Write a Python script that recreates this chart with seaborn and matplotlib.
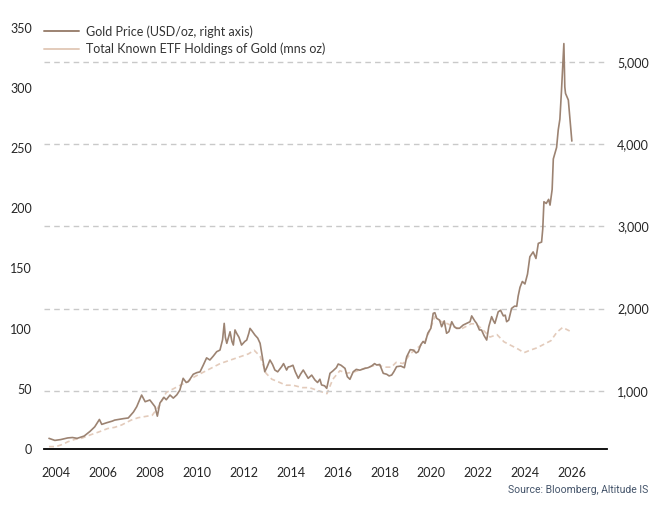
import matplotlib
matplotlib.use("Agg")
import matplotlib.pyplot as plt
from matplotlib.lines import Line2D
from matplotlib.ticker import FuncFormatter
import seaborn as sns
import pandas as pd

# gold price, USD/oz (right axis)
gold_years = [
    2004.2, 2004.45, 2004.7, 2005.0, 2005.2, 2005.4, 2005.7, 2005.95, 2006.15, 2006.35,
    2006.45, 2006.66, 2006.9, 2007.0, 2007.37, 2007.58, 2007.8, 2007.94, 2008.15, 2008.3,
    2008.5, 2008.72, 2008.82, 2008.93, 2009.1, 2009.2, 2009.36, 2009.5, 2009.65, 2009.78,
    2009.92, 2010.05, 2010.14, 2010.35, 2010.5, 2010.64, 2010.78, 2010.92, 2011.06, 2011.2,
    2011.35, 2011.49, 2011.6, 2011.67, 2011.72, 2011.78, 2011.92, 2012.0, 2012.06, 2012.13,
    2012.2, 2012.3, 2012.41, 2012.55, 2012.63, 2012.72, 2012.77, 2012.85, 2012.98, 2013.1,
    2013.2, 2013.27, 2013.4, 2013.5, 2013.62, 2013.73, 2013.83, 2013.95, 2014.12, 2014.2,
    2014.33, 2014.4, 2014.47, 2014.6, 2014.7, 2014.83, 2014.92, 2015.04, 2015.15, 2015.25,
    2015.4, 2015.54, 2015.65, 2015.75, 2015.82, 2015.95, 2016.04, 2016.18, 2016.3, 2016.45,
    2016.53, 2016.65, 2016.82, 2016.92, 2017.03, 2017.17, 2017.3, 2017.45, 2017.67, 2017.8,
    2017.95, 2018.08, 2018.17, 2018.3, 2018.45, 2018.6, 2018.7, 2018.81, 2018.9, 2019.02,
    2019.2, 2019.35, 2019.45, 2019.6, 2019.73, 2019.85, 2019.94, 2020.05, 2020.15, 2020.23,
    2020.35, 2020.48, 2020.58, 2020.65, 2020.73, 2020.85, 2020.94, 2021.05, 2021.15, 2021.25,
    2021.37, 2021.48, 2021.58, 2021.7, 2021.86, 2022.0, 2022.15, 2022.22, 2022.35, 2022.43,
    2022.55, 2022.64, 2022.75, 2022.86, 2022.95, 2023.07, 2023.15, 2023.21, 2023.35, 2023.45,
    2023.57, 2023.65, 2023.71, 2023.8, 2023.92, 2024.05, 2024.14, 2024.2, 2024.28, 2024.38,
    2024.49, 2024.6, 2024.7, 2024.84, 2024.96, 2025.06, 2025.2, 2025.25, 2025.3, 2025.4,
    2025.5, 2025.56, 2025.65, 2025.7, 2025.84, 2025.91, 2025.98, 2026.05, 2026.15, 2026.19,
    2026.22, 2026.34, 2026.49,
]
gold_price = [
    420, 395, 405, 425, 430, 420, 448, 505, 560, 650,
    590, 610, 630, 642, 660, 668, 740, 805, 947, 866,
    887, 805, 690, 850, 920, 890, 947, 910, 950, 1008,
    1151, 1100, 1110, 1200, 1220, 1230, 1313, 1400, 1374, 1420,
    1475, 1495, 1620, 1820, 1650, 1577, 1718, 1600, 1556, 1740,
    1699, 1650, 1556, 1600, 1617, 1700, 1759, 1730, 1678, 1640,
    1577, 1455, 1231, 1290, 1374, 1320, 1252, 1230, 1293, 1330,
    1252, 1290, 1293, 1310, 1230, 1151, 1200, 1252, 1200, 1151,
    1190, 1130, 1100, 1140, 1070, 1060, 1029, 1212, 1240, 1280,
    1325, 1310, 1272, 1170, 1139, 1231, 1260, 1250, 1272, 1280,
    1300, 1330, 1313, 1320, 1212, 1200, 1180, 1191, 1230, 1293,
    1300, 1280, 1414, 1500, 1495, 1460, 1475, 1560, 1600, 1577,
    1700, 1760, 1942, 1950, 1881, 1860, 1779, 1850, 1699, 1720,
    1840, 1780, 1759, 1760, 1800, 1820, 1840, 1911, 1850, 1820,
    1740, 1739, 1670, 1617, 1780, 1902, 1850, 1820, 1960, 1980,
    1911, 1920, 1840, 1860, 2002, 2030, 2027, 2150, 2259, 2330,
    2300, 2420, 2631, 2690, 2610, 2794, 2810, 2970, 3301, 3280,
    3330, 3260, 3450, 3822, 3962, 4175, 4306, 4661, 5227, 4700,
    4620, 4540, 4040,
]

# total known ETF holdings of gold, mn oz (left axis)
etf_years = [
    2004.2, 2004.5, 2004.8, 2005.0, 2005.3, 2005.6, 2006.0, 2006.3, 2006.7, 2007.0,
    2007.3, 2007.7, 2008.0, 2008.3, 2008.6, 2008.9, 2009.2, 2009.5, 2009.8, 2010.1,
    2010.4, 2010.7, 2010.9, 2011.2, 2011.5, 2011.8, 2012.1, 2012.4, 2012.7, 2012.95,
    2013.2, 2013.45, 2013.7, 2013.95, 2014.3, 2014.6, 2015.0, 2015.3, 2015.6, 2015.9,
    2016.05, 2016.3, 2016.6, 2016.9, 2017.2, 2017.5, 2017.8, 2018.2, 2018.5, 2018.8,
    2019.0, 2019.3, 2019.6, 2019.9, 2020.2, 2020.4, 2020.65, 2020.9, 2021.2, 2021.5,
    2021.8, 2022.2, 2022.4, 2022.7, 2023.0, 2023.3, 2023.6, 2023.9, 2024.2, 2024.45,
    2024.7, 2025.0, 2025.3, 2025.6, 2025.85, 2026.1, 2026.3, 2026.5,
]
etf_holdings = [
    2, 2, 4, 6, 8, 9, 12, 14, 17, 18,
    20, 24, 26, 27, 28, 36, 47, 50, 53, 56,
    60, 63, 65, 68, 71, 73, 75, 77, 79, 82,
    77, 63, 58, 56, 53, 53, 51, 51, 49, 47,
    46, 58, 65, 63, 64, 66, 68, 70, 68, 68,
    72, 71, 79, 84, 88, 97, 110, 106, 104, 101,
    100, 104, 104, 99, 93, 95, 89, 86, 83, 80,
    82, 84, 87, 90, 97, 101, 99, 97,
]

year_labels = [str(y) for y in range(2004, 2027, 2)]
left_ticks = [0, 50, 100, 150, 200, 250, 300, 350]
right_ticks = [1000, 2000, 3000, 4000, 5000]

gold_color = "#9c8372"
etf_color = "#e3cbbb"
text_color = "#262626"

sns.set_style("white")
plt.rcParams["font.family"] = ["Lato", "DejaVu Sans"]

gold = pd.DataFrame({"year": gold_years, "price": gold_price})
etf = pd.DataFrame({"year": etf_years, "holdings": etf_holdings})

fig = plt.figure(figsize=(6.57, 5.08), dpi=100)
ax = fig.add_axes([0.0674, 0.1161, 0.8569, 0.8295])
ax2 = ax.twinx()

sns.lineplot(data=etf, x="year", y="holdings", ax=ax, color=etf_color,
             linewidth=1.2, linestyle=(0, (3, 2)), errorbar=None)
sns.lineplot(data=gold, x="year", y="price", ax=ax2, color=gold_color,
             linewidth=1.2, errorbar=None)

ax.set_xlim(2004, 2028)
ax.set_ylim(0, 350)
ax2.set_ylim(290, 5421)

ax.set_yticks(left_ticks)
ax2.set_yticks(right_ticks)
ax2.yaxis.set_major_formatter(FuncFormatter(lambda v, p: f"{int(v):,}"))

ax.set_xticks([int(s) + 0.5 for s in year_labels])
ax.set_xticklabels(year_labels)
ax.set_xticks(range(2004, 2029), minor=True)
ax.tick_params(axis="x", which="major", length=0, pad=13, labelsize=9, colors=text_color)
ax.tick_params(axis="x", which="minor", direction="out", length=5, width=1.3, color="black")
ax.tick_params(axis="y", length=0, pad=9, labelsize=9, colors=text_color)
ax2.tick_params(axis="y", length=0, pad=7, labelsize=9, colors=text_color)

ax.set_xlabel("")
ax.set_ylabel("")
ax2.set_ylabel("")
ax.grid(False)
ax2.grid(axis="y", color="#c9c9c9", linestyle=(0, (4, 3)), linewidth=1)
ax2.set_axisbelow(True)

for s in ["top", "left", "right"]:
    ax.spines[s].set_visible(False)
for s in ["top", "left", "right", "bottom"]:
    ax2.spines[s].set_visible(False)
ax.spines["bottom"].set_color("black")
ax.spines["bottom"].set_linewidth(1.3)

handles = [
    Line2D([], [], color=gold_color, linewidth=1.4),
    Line2D([], [], color=etf_color, linewidth=1.4),
]
labels = ["Gold Price (USD/oz, right axis)", "Total Known ETF Holdings of Gold (mns oz)"]
fig.legend(handles, labels, loc="upper left", bbox_to_anchor=(44 / 657, 1 - 25 / 508),
           frameon=False, fontsize=9, handlelength=2.8, handletextpad=0.6,
           labelspacing=0.4, borderpad=0, borderaxespad=0, labelcolor="#333333")

fig.text(648 / 657, 1 - 490 / 508, "Source: Bloomberg, Altitude IS", ha="right",
         va="center", color="#44546a", fontsize=7.5, family=["Roboto", "DejaVu Sans"])

fig.savefig("out.png", dpi=100)
